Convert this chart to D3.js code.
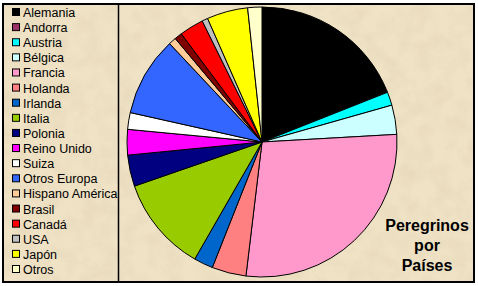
<!DOCTYPE html>
<html>
<head>
<meta charset="utf-8">
<script src="https://cdn.jsdelivr.net/npm/d3@7"></script>
<style>
  html, body { margin: 0; padding: 0; background: #fff; }
  svg { display: block; }
</style>
</head>
<body>
<div id="chart"></div>
<script>
// Peregrinos por países (percentages)
const countries = ["Alemania", "Andorra", "Austria", "Bélgica", "Francia", "Holanda", "Irlanda",
  "Italia", "Polonia", "Reino Unido", "Suiza", "Otros Europa", "Hispano América", "Brasil",
  "Canadá", "USA", "Japón", "Otros"];
const shares = [18.9, 0.1, 1.6, 3.5, 27.8, 4.1, 2.3, 11.4, 3.75, 3.05, 2.0, 9.5, 0.9, 0.9, 2.9, 0.7, 4.9, 1.7];
const colors = ["#000000", "#993366", "#00ffff", "#ccffff", "#ff99cc", "#ff8080", "#0066cc",
  "#99cc00", "#000080", "#ff00ff", "#ffffff", "#3366ff", "#ffcc99", "#800000",
  "#ff0000", "#c0c0c0", "#ffff00", "#ffffcc"];
const titleLines = ["Peregrinos", "por", "Países"];

const W = 478, H = 286;
const frame = {x: 3, y: 4, w: 471, h: 278};
const legendRight = 118.5;
const cx = 262, cy = 142, radius = 135;

const data = countries.map((c, i) => ({name: c, value: shares[i]}));
const color = d3.scaleOrdinal().domain(countries).range(colors);

const svg = d3.select("#chart").append("svg")
    .attr("width", W)
    .attr("height", H);

// parchment texture
const defs = svg.append("defs");
const filt = defs.append("filter").attr("id", "paper")
    .attr("x", 0).attr("y", 0).attr("width", "100%").attr("height", "100%");
filt.append("feTurbulence")
    .attr("type", "fractalNoise")
    .attr("baseFrequency", 0.06)
    .attr("numOctaves", 4)
    .attr("seed", 3)
    .attr("result", "noise");
filt.append("feColorMatrix")
    .attr("in", "noise")
    .attr("type", "matrix")
    .attr("values", "0 0 0 0 0.76  0 0 0 0 0.64  0 0 0 0 0.44  0 0 0 -1.6 1.0");

svg.append("rect")
    .attr("x", frame.x).attr("y", frame.y)
    .attr("width", frame.w).attr("height", frame.h)
    .attr("fill", "#efe2c5");
svg.append("rect")
    .attr("x", frame.x).attr("y", frame.y)
    .attr("width", frame.w).attr("height", frame.h)
    .attr("filter", "url(#paper)")
    .attr("opacity", 0.6);

// pie
const pie = d3.pie().sort(null).value(d => d.value);
const arc = d3.arc().innerRadius(0).outerRadius(radius);

svg.append("g")
    .attr("transform", `translate(${cx},${cy})`)
    .selectAll("path")
    .data(pie(data))
    .join("path")
    .attr("d", arc)
    .attr("fill", d => color(d.data.name))
    .attr("stroke", "#000")
    .attr("stroke-width", 1)
    .attr("stroke-linejoin", "round");

// legend
const ly = d3.scalePoint().domain(countries).range([13, 270]);
const legend = svg.append("g")
    .selectAll("g")
    .data(countries)
    .join("g")
    .attr("transform", d => `translate(0,${ly(d)})`);

legend.append("rect")
    .attr("x", 12.5).attr("y", -4.5)
    .attr("width", 7).attr("height", 7)
    .attr("fill", d => color(d))
    .attr("stroke", "#000")
    .attr("stroke-width", 1);

legend.append("text")
    .attr("x", 23)
    .attr("y", 4)
    .attr("font-family", "Liberation Sans, Arial, sans-serif")
    .attr("font-size", 12.5)
    .attr("fill", "#000")
    .text(d => d);

svg.append("line")
    .attr("x1", legendRight).attr("x2", legendRight)
    .attr("y1", frame.y).attr("y2", frame.y + frame.h)
    .attr("stroke", "#000")
    .attr("stroke-width", 1.5);

// title
svg.append("text")
    .attr("x", 427)
    .attr("font-family", "Liberation Sans, Arial, sans-serif")
    .attr("font-size", 16)
    .attr("font-weight", "bold")
    .attr("text-anchor", "middle")
    .attr("fill", "#000")
    .selectAll("tspan")
    .data(titleLines)
    .join("tspan")
    .attr("x", 427)
    .attr("y", (d, i) => 231 + i * 20)
    .text(d => d);

// outer frame
svg.append("rect")
    .attr("x", frame.x).attr("y", frame.y)
    .attr("width", frame.w).attr("height", frame.h)
    .attr("fill", "none")
    .attr("stroke", "#000")
    .attr("stroke-width", 2);
</script>
</body>
</html>
